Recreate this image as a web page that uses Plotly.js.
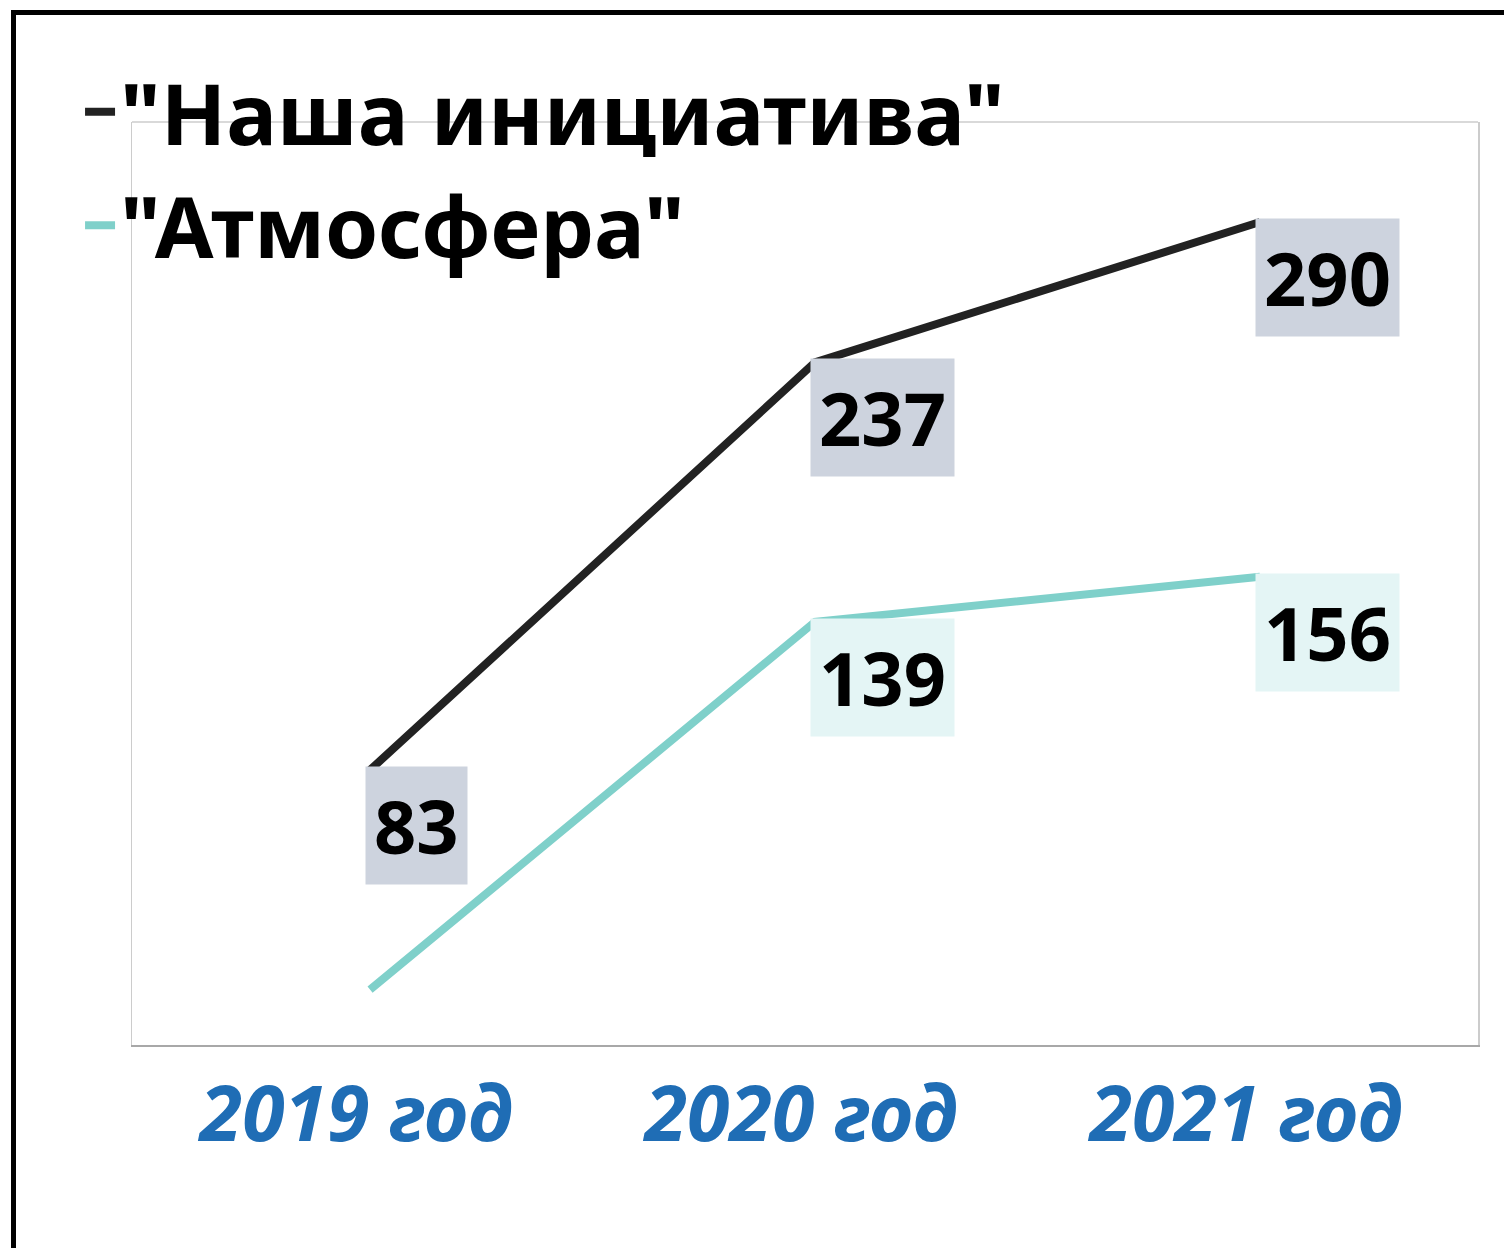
<!DOCTYPE html>
<html>
<head>
<meta charset="utf-8">
<script src="https://cdn.plot.ly/plotly-3.0.1.min.js"></script>
<style>
  html, body { margin: 0; padding: 0; background: #fff; }
  #wrap { position: relative; width: 1504px; height: 1248px; }
  #chart { width: 1504px; height: 1248px; }
  #frame { position: absolute; left: 11px; top: 10px; width: 1504px; height: 1248px;
           border-top: 5px solid #000; border-left: 5px solid #000; pointer-events: none; }
</style>
</head>
<body>
<div id="wrap">
  <div id="chart"></div>
  <div id="frame"></div>
</div>
<script>
// ---- data ----
const years = ["2019 год", "2020 год", "2021 год"];
const seriesNames = ['"Наша инициатива"', '"Атмосфера"'];
const nashaValues = [83, 237, 290];
const atmosferaValues = [0, 139, 156];
const atmosferaLabels = ["", "139", "156"];
const nashaLabels = ["83", "237", "290"];

const xIdx = years.map((_, i) => i);

const traces = [
  {
    x: xIdx, y: nashaValues, type: 'scatter', mode: 'lines',
    name: seriesNames[0],
    line: { color: '#222222', width: 8 },
    hoverinfo: 'skip'
  },
  {
    x: xIdx, y: atmosferaValues, type: 'scatter', mode: 'lines',
    name: seriesNames[1],
    line: { color: '#7fd0ca', width: 8 },
    hoverinfo: 'skip'
  }
];

const labelFont = { family: 'Noto Sans, sans-serif', size: 74, color: '#000' };
const annotations = [];
function addLabels(values, labels, bg) {
  values.forEach((v, i) => {
    if (!labels[i]) return;
    annotations.push({
      x: xIdx[i], y: v, xref: 'x', yref: 'y',
      text: '<b>' + labels[i] + '</b>',
      showarrow: false, xanchor: 'left', yanchor: 'top',
      xshift: -5, yshift: 4,
      bgcolor: bg, borderpad: 8,
      font: labelFont
    });
  });
}
addLabels(nashaValues, nashaLabels, '#cdd3de');
addLabels(atmosferaValues, atmosferaLabels, '#e4f5f5');

const layout = {
  width: 1504, height: 1248,
  margin: { l: 132, r: 26, t: 122, b: 203 },
  paper_bgcolor: '#ffffff', plot_bgcolor: '#ffffff',
  showlegend: true,
  legend: {
    x: -0.0386, y: 1.078, xanchor: 'left', yanchor: 'top',
    bgcolor: 'rgba(0,0,0,0)', itemwidth: 30,
    font: { family: 'Noto Sans, sans-serif', size: 85, color: '#000', weight: 'bold' },
    tracegroupgap: 0
  },
  xaxis: {
    range: [-0.535, 2.49],
    tickmode: 'array', tickvals: xIdx, ticktext: years,
    showgrid: false, zeroline: false,
    showline: true, linecolor: '#a8a8a8', linewidth: 2,
    ticks: '', ticklabelstandoff: 2, ticklabelshift: -14,
    tickfont: { family: 'Noto Sans, sans-serif', size: 77, color: '#1f6db5', weight: 'bold', style: 'italic' }
  },
  yaxis: {
    range: [-20.9, 327.8],
    showgrid: false, zeroline: false, showticklabels: false, ticks: '',
    showline: true, mirror: true, linecolor: '#cccccc', linewidth: 1.5
  },
  shapes: [
    { type: 'line', xref: 'paper', yref: 'paper', x0: 0, x1: 1, y0: 1, y1: 1,
      line: { color: '#cccccc', width: 1.5 } }
  ],
  annotations: annotations
};

Plotly.newPlot('chart', traces, layout, { displayModeBar: false, staticPlot: true });
</script>
</body>
</html>
